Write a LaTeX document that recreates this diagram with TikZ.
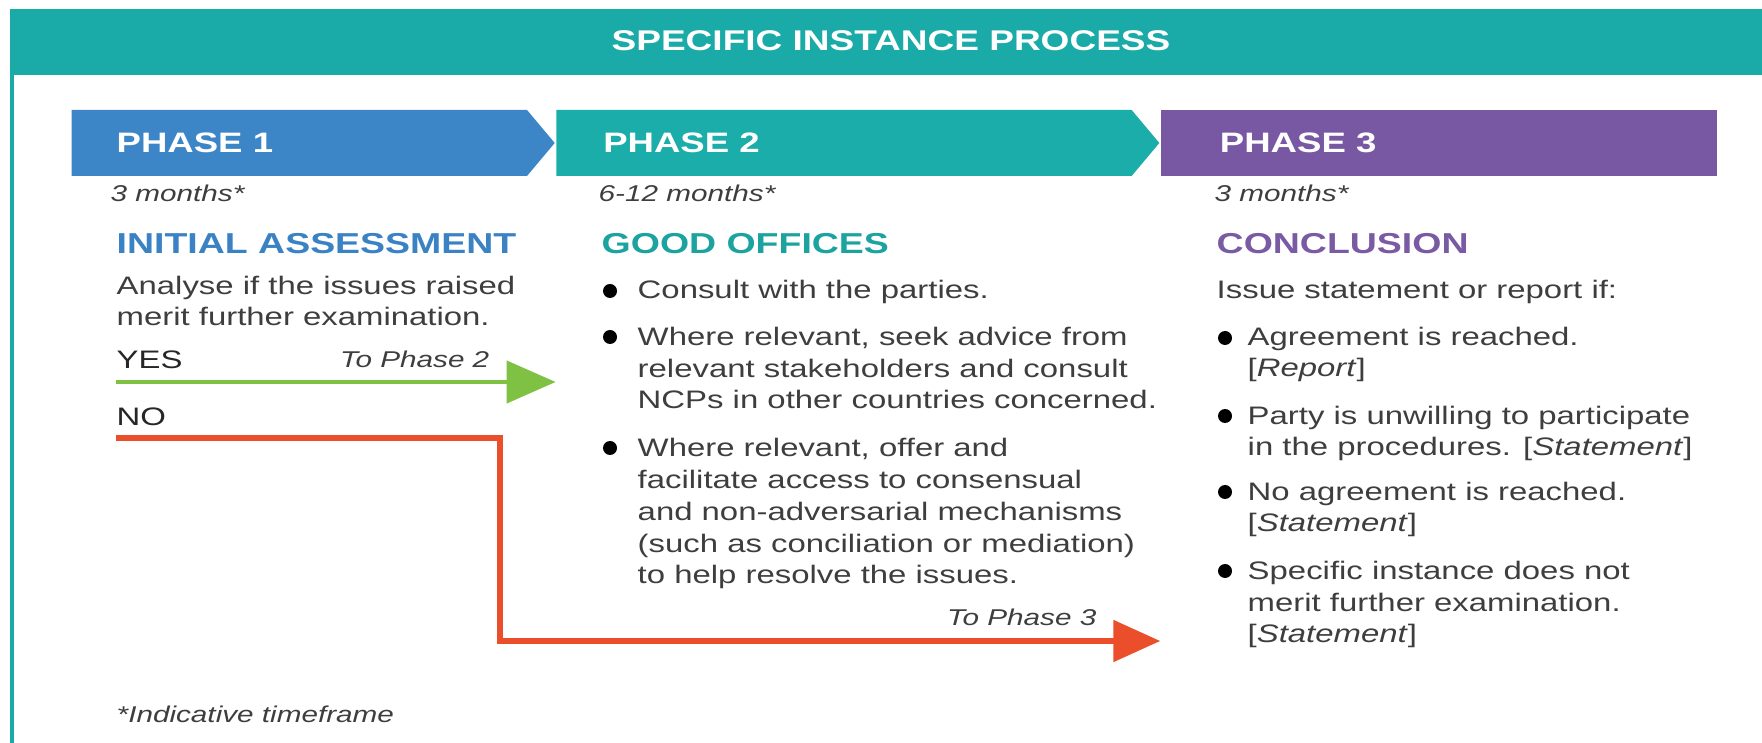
\documentclass[tikz,border=0pt]{standalone}
\usepackage{fontspec}
\setmainfont{Liberation Sans}[FakeStretch=1.3]
\usetikzlibrary{positioning, arrows.meta, shapes.symbols}

\definecolor{barteal}{HTML}{1AABA9}
\definecolor{phblue}{HTML}{3C86C7}
\definecolor{phteal}{HTML}{1AADA9}
\definecolor{phpurple}{HTML}{7858A2}
\definecolor{headblue}{HTML}{3A82C4}
\definecolor{headteal}{HTML}{1CA39F}
\definecolor{headpurple}{HTML}{7A5BA3}
\definecolor{yesgreen}{HTML}{7EC143}
\definecolor{nored}{HTML}{EA4E2B}
\definecolor{txtgray}{HTML}{3E3E3E}

\tikzset{
  phase/.style={signal, signal to=east, signal pointer angle=100, minimum height=6.6mm, inner sep=0pt, anchor=west},
  phaselabel/.style={text=white, font=\bfseries\fontsize{8}{9.6}\selectfont, inner sep=0pt},
  months/.style={text=txtgray, font=\itshape\fontsize{6.5}{8}\selectfont, inner sep=0pt, anchor=base west},
  heading/.style={font=\bfseries\fontsize{8.2}{9.8}\selectfont, inner sep=0pt, anchor=base west},
  body/.style={text=txtgray, font=\fontsize{7.2}{9.1}\selectfont, align=left, inner sep=0pt, anchor=base west},
  hint/.style={text=txtgray, font=\itshape\fontsize{6.5}{8}\selectfont, inner sep=0pt, anchor=base east},
  dot/.style={circle, fill=black, inner sep=0pt, minimum size=1.4mm},
  yesflow/.style={yesgreen, line width=1.2pt, -{Triangle[length=4.9mm, width=4.2mm]}},
  noflow/.style={nored, line width=1.5pt, line join=miter, -{Triangle[length=4.7mm, width=4.1mm]}},
}

\begin{document}
\begin{tikzpicture}
    \useasboundingbox (0,0) rectangle (17.62,-7.43);

    % frame and title bar
    \draw [barteal, line width=1pt] (0.12,-7.43) -- (0.12,-0.09);
    \node (bar) [fill=barteal, minimum width=17.53cm, minimum height=6.6mm, inner sep=0pt, anchor=north west] at (0.09,-0.08) {};
    \node (title) [phaselabel, anchor=base, font=\bfseries\fontsize{8.1}{9.7}\selectfont] at (8.91,-0.51) {SPECIFIC INSTANCE PROCESS};

    % phase arrows
    \node (p1) [phase, fill=phblue, minimum width=4.83cm] at (0.71,-1.43) {};
    \node (p2) [phase, fill=phteal, minimum width=6.03cm] at (p1.east) {};
    \node (p3) [phase, shape=rectangle, fill=phpurple, minimum width=5.56cm] at (p2.east) {};
    \node (p1lbl) [phaselabel, right=4.5mm of p1.west] {PHASE 1};
    \node (p2lbl) [phaselabel, right=4.7mm of p2.west] {PHASE 2};
    \node (p3lbl) [phaselabel, right=5.9mm of p3.west] {PHASE 3};

    % phase 1 (multi-line nodes sit on their last line)
    \node (p1time) [months] at (1.10,-2.02) {3 months*};
    \node (p1head) [heading, text=headblue] at (1.16,-2.54) {INITIAL ASSESSMENT};
    \node (p1text) [body] at (1.16,-3.26) {Analyse if the issues raised\\merit further examination.};
    \node (yes) [body, text=black!85] at (1.16,-3.69) {YES};
    \node (no) [body, text=black!85] at (1.16,-4.26) {NO};
    \node (hint2) [hint] at (4.90,-3.68) {To Phase 2};
    \node (hint3) [hint] at (10.97,-6.26) {To Phase 3};
    \coordinate (yesstart) at (1.16,-3.82);
    \coordinate (nostart) at (1.16,-4.38);
    \coordinate (nobend) at (5.00,-4.38);
    \coordinate (nolow) at (1.16,-6.41);
    \draw [yesflow] (yesstart) -- (yesstart -| p2.west);
    \draw [noflow] (nostart) -- (nobend) |- (nolow -| p3.west);

    % phase 2
    \node (p2time) [months] at (5.98,-2.02) {6-12 months*};
    \node (p2head) [heading, text=headteal] at (6.01,-2.54) {GOOD OFFICES};
    \node (g1) [body] at (6.37,-2.99) {Consult with the parties.};
    \node (g2) [body] at (6.37,-4.09) {Where relevant, seek advice from\\relevant stakeholders and consult\\NCPs in other countries concerned.};
    \node (g3) [body] at (6.37,-5.84) {Where relevant, offer and\\facilitate access to consensual\\and non-adversarial mechanisms\\(such as conciliation or mediation)\\to help resolve the issues.};

    % phase 3
    \node (p3time) [months] at (12.14,-2.02) {3 months*};
    \node (p3head) [heading, text=headpurple] at (12.16,-2.54) {CONCLUSION};
    \node (p3text) [body] at (12.16,-2.99) {Issue statement or report if:};
    \node (c1) [body] at (12.47,-3.77) {Agreement is reached.\\{[}\textit{Report}]};
    \node (c2) [body] at (12.47,-4.56) {Party is unwilling to participate\\in the procedures. [\textit{Statement}]};
    \node (c3) [body] at (12.47,-5.32) {No agreement is reached.\\{[}\textit{Statement}]};
    \node (c4) [body] at (12.47,-6.43) {Specific instance does not\\merit further examination.\\{[}\textit{Statement}]};

    % bullets
    \foreach \n/\x/\y in {g1/6.10/-2.91, g2/6.10/-3.37, g3/6.10/-4.48,
                          c1/12.25/-3.38, c2/12.25/-4.16, c3/12.25/-4.92, c4/12.25/-5.71}
        \node (\n dot) [dot] at (\x,\y) {};

    \node (note) [months] at (1.16,-7.23) {*Indicative timeframe};
\end{tikzpicture}
\end{document}
